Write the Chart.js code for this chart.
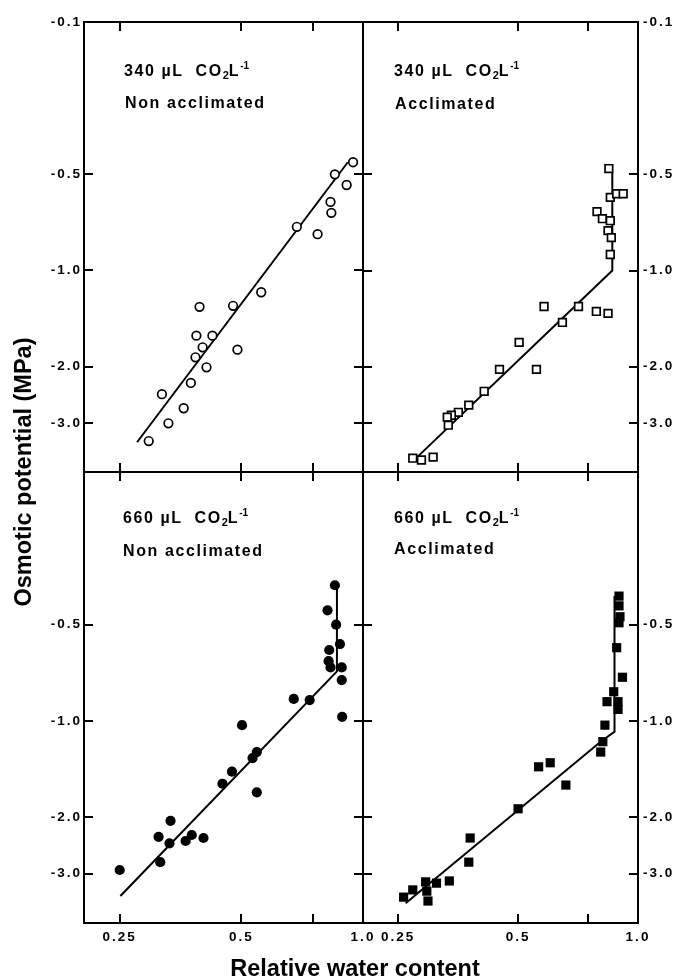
<!DOCTYPE html>
<html>
<head>
<meta charset="utf-8">
<script src="https://cdn.jsdelivr.net/npm/chart.js@4.4.0/dist/chart.umd.min.js"></script>
<style>
html,body{margin:0;padding:0;background:#fff;}
#wrap{position:relative;width:678px;height:979px;overflow:hidden;background:#fff;}
#wrap canvas{position:absolute;left:0;top:0;}
.ann{position:absolute;font-family:"Liberation Sans",Arial,sans-serif;font-weight:bold;font-size:16px;letter-spacing:1.6px;white-space:pre;color:#000;line-height:16px;}
.ann sub{font-size:11px;vertical-align:-3px;line-height:0;letter-spacing:0;}
.ann sup{font-size:10px;vertical-align:7px;line-height:0;letter-spacing:0;}
.ttl{position:absolute;font-family:"Liberation Sans",Arial,sans-serif;font-weight:bold;font-size:23.5px;color:#000;white-space:nowrap;text-align:center;}
</style>
</head>
<body>
<div id="wrap">
  <canvas id="cTL" width="678" height="979"></canvas>
  <canvas id="cTR" width="678" height="979"></canvas>
  <canvas id="cBL" width="678" height="979"></canvas>
  <canvas id="cBR" width="678" height="979"></canvas>

  <div class="ann" style="left:124px;top:63px;">340 µL  CO<sub>2</sub>L<sup>-1</sup></div>
  <div class="ann" style="left:125px;top:95px;">Non acclimated</div>
  <div class="ann" style="left:394px;top:63px;">340 µL  CO<sub>2</sub>L<sup>-1</sup></div>
  <div class="ann" style="left:395px;top:96px;">Acclimated</div>
  <div class="ann" style="left:123px;top:510px;">660 µL  CO<sub>2</sub>L<sup>-1</sup></div>
  <div class="ann" style="left:123px;top:543px;">Non acclimated</div>
  <div class="ann" style="left:394px;top:510px;">660 µL  CO<sub>2</sub>L<sup>-1</sup></div>
  <div class="ann" style="left:394px;top:541px;">Acclimated</div>

  <div class="ttl" style="left:105px;top:957px;width:500px;line-height:23.5px;">Relative water content</div>
  <div class="ttl" style="left:-137px;top:460px;width:320px;height:24px;line-height:24px;transform:rotate(-90deg);">Osmotic potential (MPa)</div>
</div>
<script>
// ---------------- axis ticks ----------------
const xTickValues = [0.25, 0.5, 0.75, 1.0];
const xTickLabels = ['0.25', '0.5', '', '1.0'];
const yTickValues = [-0.1, -0.5, -1.0, -2.0, -3.0];
const yTickLabels = ['-0.1', '-0.5', '-1.0', '-2.0', '-3.0'];
const xMin = 0.204, xMax = 1.0;

// ---------------- data: 340 µL CO2 L-1, non acclimated (open circles) ----------------
const rwc340N = [0.945, 0.852, 0.911, 0.831, 0.835, 0.686, 0.772, 0.560, 0.394, 0.477, 0.387,
                 0.424, 0.401, 0.489, 0.385, 0.410, 0.375, 0.318, 0.360, 0.330, 0.295];
const psi340N = [-0.44, -0.50, -0.54, -0.61, -0.66, -0.73, -0.77, -1.17, -1.30, -1.29, -1.60,
                 -1.60, -1.74, -1.77, -1.87, -2.01, -2.25, -2.44, -2.70, -3.01, -3.42];
const fitRwc340N = [0.276, 0.917];
const fitPsi340N = [-3.45, -0.44];

// ---------------- data: 340 µL CO2 L-1, acclimated (open squares) ----------------
const rwc340A = [0.845, 0.852, 0.884, 0.918, 0.789, 0.814, 0.852, 0.841, 0.857, 0.852,
                 0.581, 0.709, 0.786, 0.841, 0.646, 0.503, 0.449, 0.556, 0.411, 0.376,
                 0.354, 0.340, 0.332, 0.334, 0.272, 0.286, 0.306];
const psi340A = [-0.47, -0.59, -0.575, -0.575, -0.654, -0.688, -0.698, -0.75, -0.789, -0.891,
                 -1.296, -1.296, -1.343, -1.362, -1.454, -1.679, -2.04, -2.04, -2.39, -2.64,
                 -2.78, -2.84, -2.88, -3.05, -3.87, -3.92, -3.84];
const fitRwc340A = [0.279, 0.862, 0.862];
const fitPsi340A = [-3.84, -1.0, -0.49];

// ---------------- data: 660 µL CO2 L-1, non acclimated (filled circles) ----------------
const rwc660N = [0.852, 0.817, 0.858, 0.877, 0.825, 0.822, 0.831, 0.886, 0.886, 0.674, 0.738,
                 0.888, 0.502, 0.546, 0.533, 0.474, 0.449, 0.546, 0.334, 0.312, 0.377, 0.364,
                 0.332, 0.403, 0.315, 0.250];
const psi660N = [-0.33, -0.43, -0.50, -0.575, -0.60, -0.65, -0.68, -0.68, -0.745, -0.853, -0.86,
                 -0.97, -1.03, -1.25, -1.305, -1.44, -1.57, -1.67, -2.05, -2.30, -2.27, -2.37,
                 -2.41, -2.32, -2.76, -2.92];
const fitRwc660N = [0.251, 0.862, 0.862];
const fitPsi660N = [-3.52, -0.70, -0.34];

// ---------------- data: 660 µL CO2 L-1, acclimated (filled squares) ----------------
const rwc660A = [0.896, 0.896, 0.901, 0.896, 0.884, 0.914, 0.869, 0.836, 0.891, 0.891, 0.826,
                 0.816, 0.806, 0.563, 0.602, 0.659, 0.500, 0.379, 0.376, 0.336, 0.312, 0.293,
                 0.295, 0.297, 0.272, 0.258];
const psi660A = [-0.37, -0.41, -0.46, -0.49, -0.59, -0.73, -0.81, -0.87, -0.87, -0.92, -1.03,
                 -1.16, -1.25, -1.39, -1.35, -1.585, -1.88, -2.32, -2.76, -3.16, -3.21, -3.18,
                 -3.40, -3.65, -3.37, -3.55];
const fitRwc660A = [0.261, 0.810, 0.873, 0.873];
const fitPsi660A = [-3.71, -1.155, -1.08, -0.37];

// ---------------- osmotic-potential axis transform (log of |psi|, compressed above -0.5) ----------------
const U_TOP = -0.778, U_BOT = 0.631, U_HALF = Math.log10(0.5);
function toU(psi) {
  const a = Math.abs(psi), l = Math.log10(a);
  if (a >= 0.5) return l;
  return U_TOP + (l + 1) / (U_HALF + 1) * (U_HALF - U_TOP);
}
function pts(xs, ys) { return xs.map((x, i) => ({x: x, y: toU(ys[i])})); }

const FONT = '"Liberation Sans", Arial, sans-serif';
const spacingPlugin = { id: 'spacing', beforeDraw(c) { try { c.ctx.letterSpacing = '2px'; } catch (e) {} } };

// label band sizes (axis boxes that carry tick labels)
const SIDE_W = 60, BOTTOM_H = 30;

function panel(id, area, o) {
  const TL = -9;
  const gridBase = { drawOnChartArea: false, drawTicks: true, tickLength: TL, tickWidth: 2,
                     tickColor: '#000', lineWidth: 2, color: '#000' };
  const border = { display: true, color: '#000', width: 2 };
  const yVals = o.topTick ? yTickValues : yTickValues.slice(1);
  const yLabs = o.topTick ? yTickLabels : yTickLabels.slice(1);
  const setY = s => { s.ticks = yVals.map(v => ({ value: toU(v) })); };
  const setX = s => { s.ticks = xTickValues.map(v => ({ value: v })); };
  const tickFont = { family: FONT, size: 13.5, weight: 'bold' };
  const xAxis = (pos, show) => ({
    type: 'logarithmic', position: pos, min: xMin, max: xMax, bounds: 'data',
    grid: gridBase, border: border,
    afterFit: s => { s.height = show ? BOTTOM_H : 0; }, afterBuildTicks: setX,
    ticks: { display: show, autoSkip: false, maxRotation: 0, minRotation: 0, color: '#000',
             font: tickFont, padding: 15, callback: (v, i) => xTickLabels[i] }
  });
  const yAxis = (pos, show, pad) => ({
    type: 'linear', position: pos, min: U_TOP, max: U_BOT, reverse: true, bounds: 'data',
    grid: gridBase, border: border,
    afterFit: s => { s.width = show ? SIDE_W : 0; }, afterBuildTicks: setY,
    ticks: { display: show, autoSkip: false, color: '#000', font: tickFont, padding: pad,
             callback: (v, i) => yLabs[i] }
  });
  const pointSet = {
    data: pts(o.rwc, o.psi), showLine: false, pointStyle: o.style, pointRadius: o.radius,
    pointBorderWidth: o.bw, borderColor: '#000', backgroundColor: o.fill,
    pointBackgroundColor: o.fill, pointBorderColor: '#000', xAxisID: 'x', yAxisID: 'y', order: 0
  };
  const lineSet = {
    data: pts(o.fitRwc, o.fitPsi), showLine: true, pointRadius: 0, borderColor: '#000',
    borderWidth: 2, tension: 0, fill: false, xAxisID: 'x', yAxisID: 'y', order: 1
  };
  const pad = {
    left: area.l - (o.leftLabels ? SIDE_W : 0),
    top: area.t,
    right: 678 - area.r - (o.rightLabels ? SIDE_W : 0),
    bottom: 979 - area.b - (o.xLabels ? BOTTOM_H : 0)
  };
  return new Chart(document.getElementById(id), {
    type: 'scatter',
    data: { datasets: [pointSet, lineSet] },
    options: {
      responsive: false, animation: false, devicePixelRatio: 1, events: [],
      layout: { padding: pad },
      plugins: { legend: { display: false }, tooltip: { enabled: false } },
      scales: {
        x: xAxis('bottom', o.xLabels),
        xt: xAxis('top', false),
        y: yAxis('left', o.leftLabels, 11),
        yr: yAxis('right', o.rightLabels, 14)
      }
    },
    plugins: [spacingPlugin]
  });
}

const L = 84, M = 363, R = 638, T = 22, H = 472, B = 923;

panel('cTL', { l: L, t: T, r: M, b: H }, {
  topTick: true, xLabels: false, leftLabels: true, rightLabels: false,
  rwc: rwc340N, psi: psi340N, fitRwc: fitRwc340N, fitPsi: fitPsi340N,
  style: 'circle', radius: 4.3, bw: 1.7, fill: '#fff'
});
panel('cTR', { l: M, t: T, r: R, b: H }, {
  topTick: true, xLabels: false, leftLabels: false, rightLabels: true,
  rwc: rwc340A, psi: psi340A, fitRwc: fitRwc340A, fitPsi: fitPsi340A,
  style: 'rect', radius: 5.4, bw: 1.7, fill: '#fff'
});
panel('cBL', { l: L, t: H, r: M, b: B }, {
  topTick: false, xLabels: true, leftLabels: true, rightLabels: false,
  rwc: rwc660N, psi: psi660N, fitRwc: fitRwc660N, fitPsi: fitPsi660N,
  style: 'circle', radius: 5.1, bw: 0, fill: '#000'
});
panel('cBR', { l: M, t: H, r: R, b: B }, {
  topTick: false, xLabels: true, leftLabels: false, rightLabels: true,
  rwc: rwc660A, psi: psi660A, fitRwc: fitRwc660A, fitPsi: fitPsi660A,
  style: 'rect', radius: 6.5, bw: 0, fill: '#000'
});
</script>
</body>
</html>
